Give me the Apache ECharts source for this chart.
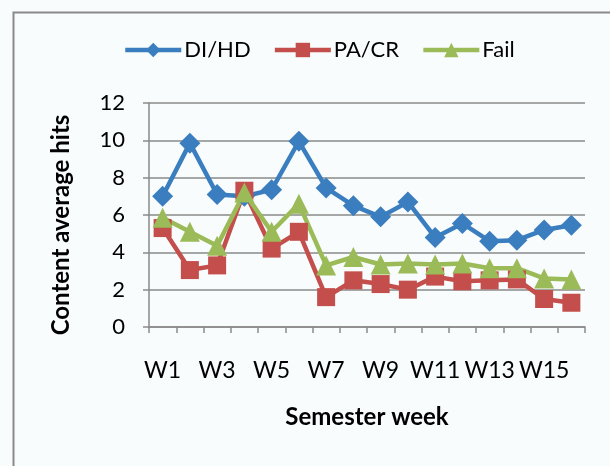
<!DOCTYPE html>
<html>
<head>
<meta charset="utf-8">
<script src="https://cdn.jsdelivr.net/npm/echarts@6/dist/echarts.min.js"></script>
<style>
html,body{margin:0;padding:0;background:#f8fcfc;}
#c{width:610px;height:466px;}
</style>
</head>
<body>
<div id="c"></div>
<script>
const weeks = ['W1','W2','W3','W4','W5','W6','W7','W8','W9','W10','W11','W12','W13','W14','W15','W16'];
const diHd = [7.0, 9.85, 7.1, 7.0, 7.35, 9.95, 7.45, 6.5, 5.9, 6.7, 4.8, 5.55, 4.6, 4.65, 5.2, 5.45];
const paCr = [5.3, 3.05, 3.3, 7.3, 4.2, 5.1, 1.6, 2.5, 2.3, 2.0, 2.7, 2.45, 2.5, 2.55, 1.5, 1.3];
const fail = [5.85, 5.1, 4.35, 7.2, 5.1, 6.6, 3.3, 3.75, 3.35, 3.4, 3.35, 3.4, 3.15, 3.15, 2.6, 2.55];
const yTicks = [0, 2, 4, 6, 8, 10, 12];

const FONT = 'Lato';
const gray = '#8a8a8a';
const chart = echarts.init(document.getElementById('c'), null, {renderer: 'canvas'});

function mk(name, data, color, symbol, size) {
  return {
    name: name, type: 'line', data: data,
    symbol: symbol, symbolSize: size, showAllSymbol: true,
    lineStyle: {width: 4.5, color: color},
    itemStyle: {color: color},
    animation: false
  };
}

chart.setOption({
  backgroundColor: '#f8fcfc',
  animation: false,
  textStyle: {fontFamily: FONT},
  graphic: [{
    type: 'rect', left: 11, top: 10,
    shape: {width: 620, height: 480},
    style: {fill: 'none', stroke: gray, lineWidth: 2},
    silent: true
  }],
  legend: {
    left: 118, top: 34,
    itemWidth: 56, itemHeight: 18, itemGap: 22,
    lineStyle: {width: 4.5},
    textStyle: {fontFamily: FONT, fontSize: 22, color: '#000', padding: [0, 0, 0, -2]},
    data: ['DI/HD', 'PA/CR', 'Fail']
  },
  grid: {left: 149, right: 25, top: 103, bottom: 139},
  xAxis: {
    type: 'category', data: weeks, boundaryGap: true,
    name: 'Semester week', nameLocation: 'middle', nameGap: 78,
    nameTextStyle: {fontFamily: FONT, fontSize: 24, fontWeight: 'bold', color: '#000'},
    axisLine: {lineStyle: {color: gray, width: 1.5}},
    axisTick: {show: true, interval: 0, length: 6, lineStyle: {color: gray, width: 1.5}},
    axisLabel: {interval: 1, margin: 32, fontFamily: FONT, fontSize: 23, color: '#000'}
  },
  yAxis: {
    type: 'value', min: yTicks[0], max: yTicks[yTicks.length - 1], interval: 2,
    name: 'Content average hits', nameLocation: 'middle', nameGap: 76, nameRotate: 90,
    nameTextStyle: {fontFamily: FONT, fontSize: 24, fontWeight: 'bold', color: '#000', padding: [0, 20, 0, 0]},
    axisLine: {show: true, lineStyle: {color: gray, width: 1.5}},
    axisTick: {show: true, length: 6, lineStyle: {color: gray, width: 1.5}},
    splitLine: {show: true, lineStyle: {color: gray, width: 1.5}},
    axisLabel: {margin: 24, fontFamily: FONT, fontSize: 22, color: '#000'}
  },
  series: [
    mk('DI/HD', diHd, '#3a7ebf', 'diamond', 21),
    mk('PA/CR', paCr, '#c44e4c', 'rect', 18),
    mk('Fail', fail, '#9bbb59', 'triangle', 20)
  ]
});
</script>
</body>
</html>
